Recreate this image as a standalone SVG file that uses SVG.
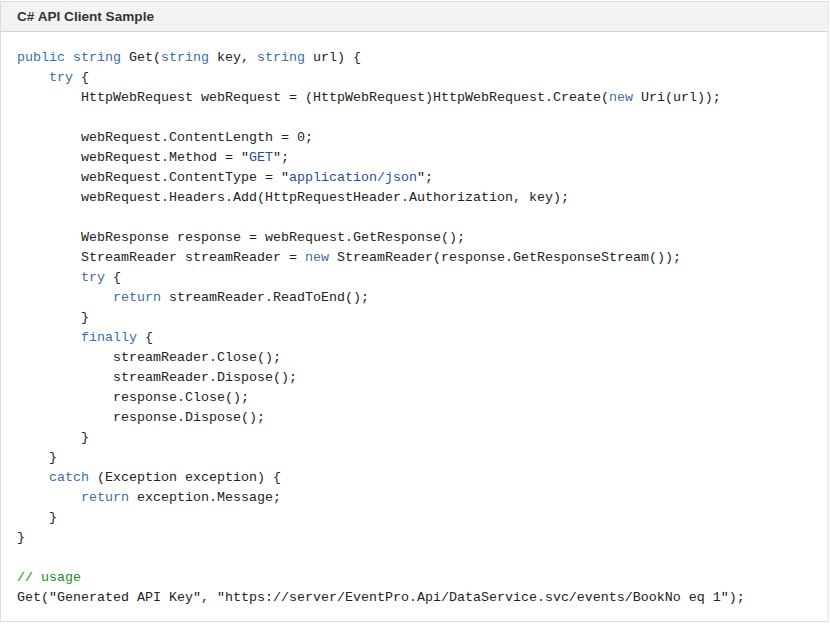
<svg xmlns="http://www.w3.org/2000/svg" width="830" height="624" viewBox="0 0 830 624">
<style>
.code{font-family:"Liberation Mono","DejaVu Sans Mono",monospace;font-size:13.33px;fill:#222;white-space:pre}
.k{fill:#3a6ea5}
.s{fill:#1f4e9e}
.c{fill:#1e8a1e}
.title{font-family:"Liberation Sans","Open Sans",sans-serif;font-size:13.6px;font-weight:bold;fill:#333}
</style>
<rect width="830" height="624" fill="#ffffff"/>
<g id="panel">
<rect x="0.5" y="1.5" width="827.5" height="620" fill="#ffffff" stroke="#dcdcdc"/>
<rect x="1" y="2" width="826.5" height="29" fill="#f3f3f3"/>
<line x1="1" y1="31.5" x2="828" y2="31.5" stroke="#d4d4d4"/>
<text class="title" x="17" y="21">C# API Client Sample</text>
</g>
<g id="code" class="code" xml:space="preserve">
<text x="17" y="61"><tspan class="k">public</tspan> <tspan class="k">string</tspan> Get(<tspan class="k">string</tspan> key, <tspan class="k">string</tspan> url) {</text>
<text x="49" y="81"><tspan class="k">try</tspan> {</text>
<text x="81" y="101">HttpWebRequest webRequest = (HttpWebRequest)HttpWebRequest.Create(<tspan class="k">new</tspan> Uri(url));</text>
<text x="81" y="141">webRequest.ContentLength = 0;</text>
<text x="81" y="161">webRequest.Method = "<tspan class="s">GET</tspan>";</text>
<text x="81" y="181">webRequest.ContentType = "<tspan class="s">application/json</tspan>";</text>
<text x="81" y="201">webRequest.Headers.Add(HttpRequestHeader.Authorization, key);</text>
<text x="81" y="241">WebResponse response = webRequest.GetResponse();</text>
<text x="81" y="261">StreamReader streamReader = <tspan class="k">new</tspan> StreamReader(response.GetResponseStream());</text>
<text x="81" y="281"><tspan class="k">try</tspan> {</text>
<text x="113" y="301"><tspan class="k">return</tspan> streamReader.ReadToEnd();</text>
<text x="81" y="321">}</text>
<text x="81" y="341"><tspan class="k">finally</tspan> {</text>
<text x="113" y="361">streamReader.Close();</text>
<text x="113" y="381">streamReader.Dispose();</text>
<text x="113" y="401">response.Close();</text>
<text x="113" y="421">response.Dispose();</text>
<text x="81" y="441">}</text>
<text x="49" y="461">}</text>
<text x="49" y="481"><tspan class="k">catch</tspan> (Exception exception) {</text>
<text x="81" y="501"><tspan class="k">return</tspan> exception.Message;</text>
<text x="49" y="521">}</text>
<text x="17" y="541">}</text>
<text x="17" y="581" class="c">// usage</text>
<text x="17" y="601">Get("Generated API Key", "https://server/EventPro.Api/DataService.svc/events/BookNo eq 1");</text>
</g>
</svg>
